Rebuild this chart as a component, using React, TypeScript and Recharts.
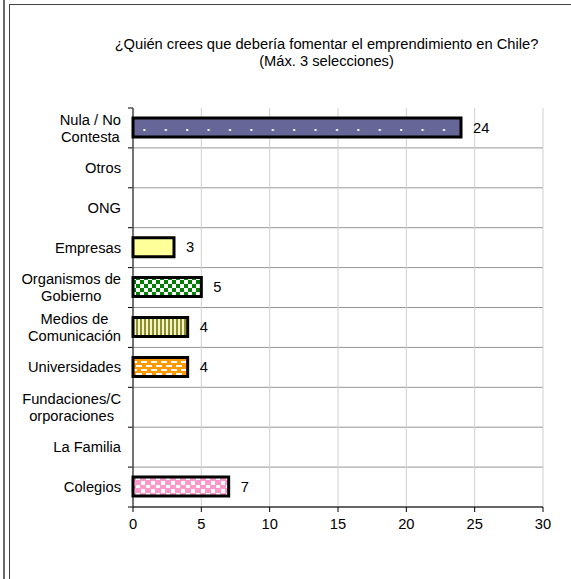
import React from "react";
import { BarChart, Bar, XAxis, YAxis, CartesianGrid, Cell, LabelList, Rectangle } from "recharts";

// top to bottom, as in the original chart
const CATEGORIES = [
  "Nula / No\nContesta",
  "Otros",
  "ONG",
  "Empresas",
  "Organismos de\nGobierno",
  "Medios de\nComunicación",
  "Universidades",
  "Fundaciones/C\norporaciones",
  "La Familia",
  "Colegios",
];
const VALUES = [24, 0, 0, 3, 5, 4, 4, 0, 0, 7];
const X_TICKS = [0, 5, 10, 15, 20, 25, 30];

const TITLE = "¿Quién crees que debería fomentar el emprendimiento en Chile?";
const SUBTITLE = "(Máx. 3 selecciones)";

const FILLS = [
  "url(#patDots)",
  "#ffffff",
  "#ffffff",
  "#ffff99",
  "url(#patCheck)",
  "url(#patStripes)",
  "url(#patBrick)",
  "#ffffff",
  "#ffffff",
  "url(#patSquares)",
];

const FONT = "Arial, 'Liberation Sans', sans-serif";
const FS = 14.7;

const data = CATEGORIES.map((name, i) => ({ name, value: VALUES[i] }));

let ctx: CanvasRenderingContext2D | null = null;
function textWidth(s: string) {
  if (!ctx) {
    ctx = document.createElement("canvas").getContext("2d");
  }
  if (!ctx) return s.length * FS * 0.5;
  ctx.font = `${FS}px 'Liberation Sans', Arial, sans-serif`;
  return ctx.measureText(s).width;
}

function CategoryTick(props: any) {
  const { x, y, payload } = props;
  const lines = String(payload.value).split("\n");
  if (lines.length === 1) {
    return (
      <text x={x} y={y} dy="0.35em" textAnchor="end" fontSize={FS} fontFamily={FONT} fill="#000">
        {lines[0]}
      </text>
    );
  }
  const maxW = Math.max(...lines.map(textWidth));
  const cx = x - maxW / 2;
  const lh = 17;
  return (
    <text x={cx} y={y} textAnchor="middle" fontSize={FS} fontFamily={FONT} fill="#000">
      {lines.map((l, i) => (
        <tspan key={i} x={cx} y={y + (i - (lines.length - 1) / 2) * lh} dy="0.35em">
          {l}
        </tspan>
      ))}
    </text>
  );
}

function BarShape(props: any) {
  if (!props.width || props.width <= 0) return <g />;
  return <Rectangle {...props} />;
}

function GridRow(props: any) {
  const { x1, x2, y1, index } = props;
  return (
    <g key={props.key}>
      <line x1={x1 - 5} y1={y1} x2={x1} y2={y1} stroke="#000" strokeWidth={1} />
      {index > 0 && <line x1={x1} y1={y1} x2={x2} y2={y1} stroke="#969696" strokeWidth={1} />}
    </g>
  );
}

export default function App() {
  return (
    <div style={{ position: "absolute", left: 0, top: 0, width: 571, height: 579, background: "#fff", fontFamily: FONT, overflow: "hidden" }}>
      {/* outer frame lines */}
      <div style={{ position: "absolute", left: 3, top: 0, width: 2, height: 579, background: "#6a6a6a" }} />
      <div style={{ position: "absolute", left: 9, top: 4, width: 1, height: 575, background: "#444" }} />
      <div style={{ position: "absolute", left: 9, top: 4, width: 562, height: 1, background: "#444" }} />
      <div
        style={{
          position: "absolute",
          left: 0,
          width: 653,
          top: 36,
          textAlign: "center",
          fontSize: FS,
          lineHeight: "17px",
          color: "#000",
        }}
      >
        {TITLE}
        <br />
        {SUBTITLE}
      </div>
      <div style={{ position: "absolute", left: 0, top: 0 }}>
        <BarChart width={571} height={579} data={data} layout="vertical" margin={{ top: 108, right: 28, bottom: 42, left: 0 }} barCategoryGap="50%">
          <defs>
            <pattern id="patDots" patternUnits="userSpaceOnUse" width={21.4} height={20} x={8}>
              <rect width={21.4} height={20} fill="#666699" />
              <rect x={7} y={9} width={2} height={2} fill="#fff" />
            </pattern>
            <pattern id="patCheck" patternUnits="userSpaceOnUse" width={8} height={8}>
              <rect width={8} height={8} fill="#008000" />
              <rect x={0} y={0} width={4} height={4} fill="#fff" />
              <rect x={4} y={4} width={4} height={4} fill="#fff" />
            </pattern>
            <pattern id="patStripes" patternUnits="userSpaceOnUse" width={4} height={4}>
              <rect width={4} height={4} fill="#f2f2c8" />
              <rect x={0} width={2} height={4} fill="#8f8f2a" />
            </pattern>
            <pattern id="patBrick" patternUnits="userSpaceOnUse" width={10} height={8}>
              <rect width={10} height={8} fill="#ff9900" />
              <rect x={1} y={1} width={6} height={2} fill="#fff" />
              <rect x={6} y={5} width={4} height={2} fill="#fff" />
              <rect x={0} y={5} width={2} height={2} fill="#fff" />
            </pattern>
            <pattern id="patSquares" patternUnits="userSpaceOnUse" width={10} height={8}>
              <rect width={10} height={8} fill="#ff99cc" />
              <rect x={1} y={1} width={4} height={4} fill="#fff" />
              <rect x={6} y={5} width={4} height={4} fill="#fff" />
            </pattern>
          </defs>
          <CartesianGrid
            stroke="#d0d0d0"
            vertical
            horizontal={GridRow as any}
            horizontalCoordinatesGenerator={({ offset }: any) =>
              Array.from({ length: CATEGORIES.length + 1 }, (_, i) => offset.top + (i * offset.height) / CATEGORIES.length)
            }
          />
          <XAxis
            type="number"
            domain={[0, 30]}
            ticks={X_TICKS}
            interval={0}
            height={30}
            axisLine={{ stroke: "#000" }}
            tickLine={{ stroke: "#000" }}
            tickSize={5}
            tickMargin={7}
            tick={{ fontSize: FS, fontFamily: FONT, fill: "#000" }}
          />
          <YAxis
            type="category"
            dataKey="name"
            width={133}
            axisLine={{ stroke: "#000" }}
            tickLine={false}
            tickSize={0}
            tickMargin={12}
            interval={0}
            tick={<CategoryTick />}
          />
          <Bar dataKey="value" barSize={19} stroke="#000" strokeWidth={3} isAnimationActive={false} shape={BarShape}>
            {data.map((_, i) => (
              <Cell key={i} fill={FILLS[i]} />
            ))}
            <LabelList
              dataKey="value"
              position="right"
              offset={12}
              formatter={(v: any) => (v > 0 ? v : "")}
              style={{ fontSize: FS, fontFamily: FONT, fill: "#000" }}
            />
          </Bar>
        </BarChart>
      </div>
    </div>
  );
}
